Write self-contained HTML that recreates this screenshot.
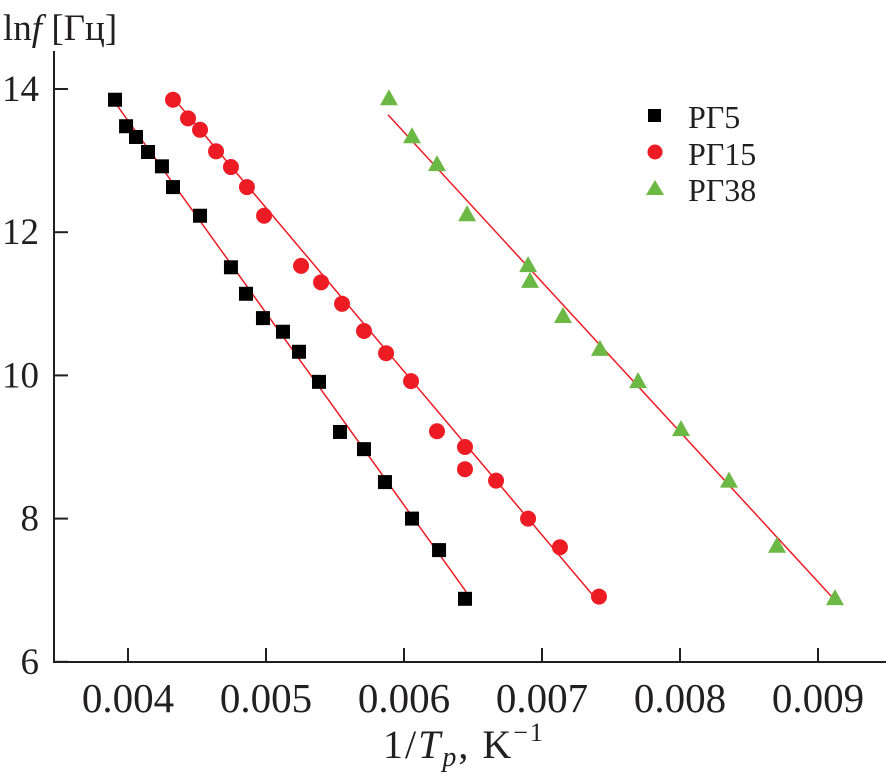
<!DOCTYPE html>
<html><head><meta charset="utf-8"><style>
html,body{margin:0;padding:0;background:#fff;}
svg{display:block;font-family:"Liberation Serif","Times New Roman",serif;}
</style></head><body>
<svg id="chart" width="886" height="782" viewBox="0 0 886 782">
<g id="axes"></g>
<g id="lines"></g>
<g id="marks"></g>
<text x="3" y="40" font-size="37" fill="#231f20">ln<tspan font-style="italic">f</tspan> [Гц]</text>
<text x="383" y="758" font-size="40" fill="#231f20" letter-spacing="2">1/<tspan font-style="italic">T</tspan><tspan font-style="italic" font-size="28" dy="8">p</tspan><tspan dy="-8">, K</tspan><tspan font-size="26" dy="-17">−1</tspan></text>
<g>
<g><rect x="648" y="109" width="13" height="13" fill="#000"/><text x="688" y="128" font-size="32" fill="#231f20">РГ5</text></g>
<g><circle cx="655" cy="152" r="7.5" fill="#ed1c24"/><text x="688" y="165" font-size="32" fill="#231f20">РГ15</text></g>
<g><polygon points="646,195 655,180 664,195" fill="#6cb844"/><text x="688" y="201" font-size="32" fill="#231f20">РГ38</text></g>
</g>
</svg>
<script>
const xTicks=[0.004,0.005,0.006,0.007,0.008,0.009];
const xTickLabels=["0.004","0.005","0.006","0.007","0.008","0.009"];
const yTicks=[6,8,10,12,14];
const yTickLabels=["6","8","10","12","14"];
const rg5X=[0.003906,0.003986,0.004058,0.004145,0.004246,0.004326,0.004522,0.004746,0.004855,0.004978,0.005123,0.005239,0.005384,0.005536,0.005710,0.005862,0.006058,0.006254,0.006442];
const rg5Y=[13.85,13.48,13.33,13.12,12.92,12.63,12.23,11.51,11.14,10.80,10.61,10.33,9.91,9.21,8.97,8.51,8.00,7.56,6.88];
const rg15X=[0.004326,0.004435,0.004522,0.004638,0.004746,0.004862,0.004986,0.005254,0.005399,0.005551,0.005710,0.005870,0.006051,0.006239,0.006442,0.006442,0.006667,0.006899,0.007130,0.007413];
const rg15Y=[13.85,13.59,13.43,13.13,12.91,12.63,12.23,11.53,11.30,11.00,10.62,10.31,9.92,9.22,9.00,8.69,8.53,8.00,7.60,6.91];
const rg38X=[0.005891,0.006058,0.006239,0.006457,0.006899,0.006913,0.007152,0.007420,0.007696,0.008007,0.008355,0.008703,0.009123];
const rg38Y=[13.87,13.34,12.95,12.25,11.54,11.32,10.83,10.37,9.92,9.25,8.53,7.62,6.89];
const fit5X=[0.00391,0.00645];const fit5Y=[13.80,6.98];
const fit15X=[0.004348,0.007399];const fit15Y=[13.83,6.86];
const fit38X=[0.005884,0.009123];const fit38Y=[13.64,6.86];

const NS="http://www.w3.org/2000/svg";
const X0=54,Y0=662;
function sx(v){return 128+(v-0.004)*138000;}
function sy(v){return 89+(14-v)*71.6;}
function mk(tag,attrs,parent){const e=document.createElementNS(NS,tag);for(const k in attrs)e.setAttribute(k,attrs[k]);parent.appendChild(e);return e;}
const axes=document.getElementById('axes');
const ya=mk('line',{x1:X0,y1:51,x2:X0,y2:Y0,stroke:'#231f20','stroke-width':2},axes);


const xa=mk('line',{x1:X0-1,y1:Y0,x2:886,y2:Y0,stroke:'#231f20','stroke-width':2},axes);


xTicks.forEach((v,i)=>{
  const t=mk('line',{x1:sx(v),y1:Y0,x2:sx(v),y2:Y0-14,stroke:'#231f20','stroke-width':2},axes);
  
  
  const l=mk('text',{x:sx(v),y:712,'font-size':41,'text-anchor':'middle',fill:'#231f20'},axes);
  l.textContent=xTickLabels[i];
  
  
});
yTicks.forEach((v,i)=>{
  const t=mk('line',{x1:X0,y1:sy(v),x2:X0+14,y2:sy(v),stroke:'#231f20','stroke-width':2},axes);
  
  
  const l=mk('text',{x:39,y:sy(v)+12,'font-size':37,'text-anchor':'end',fill:'#231f20'},axes);
  l.textContent=yTickLabels[i];
  
  
});
const lines=document.getElementById('lines');
[[fit5X,fit5Y,'fit-line-rg5'],[fit15X,fit15Y,'fit-line-rg15'],[fit38X,fit38Y,'fit-line-rg38']].forEach(([xs,ys,n])=>{
  const l=mk('line',{x1:sx(xs[0]),y1:sy(ys[0]),x2:sx(xs[1]),y2:sy(ys[1]),stroke:'#ed1c24','stroke-width':1.5},lines);
  
  
});
const marks=document.getElementById('marks');
rg5X.forEach((v,i)=>{
  const r=mk('rect',{x:sx(v)-7,y:sy(rg5Y[i])-7,width:14,height:14,fill:'#000'},marks);
  
  
});
rg15X.forEach((v,i)=>{
  const c=mk('circle',{cx:sx(v),cy:sy(rg15Y[i]),r:8,fill:'#ed1c24'},marks);
  
  
});
rg38X.forEach((v,i)=>{
  const x=sx(v),y=sy(rg38Y[i]);
  const p=mk('polygon',{points:`${x-9},${y+7} ${x},${y-9} ${x+9},${y+7}`,fill:'#6cb844'},marks);
  
  
});
</script>
</body></html>
